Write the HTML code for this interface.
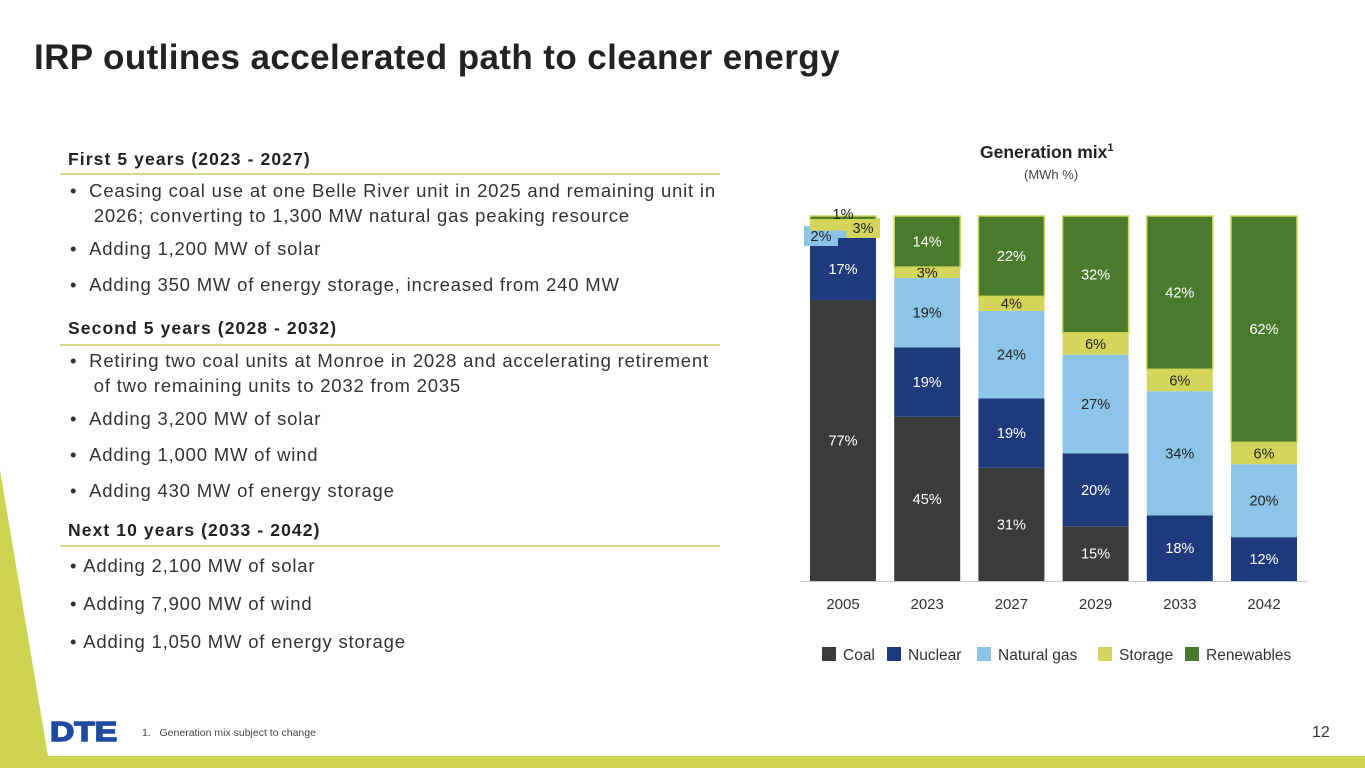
<!DOCTYPE html>
<html><head><meta charset="utf-8"><style>
body{margin:0;width:1365px;height:768px;position:relative;overflow:hidden;background:#fff;font-family:"Liberation Sans",sans-serif;color:#222}
.t{position:absolute;white-space:nowrap}
h1{position:absolute;left:34px;top:38px;margin:0;font-size:35px;font-weight:bold;color:#222;letter-spacing:0.4px}
.hd{position:absolute;left:68px;font-size:17.5px;font-weight:bold;letter-spacing:1.1px;color:#222}
.ln{position:absolute;left:60px;width:660px;height:2px;background:#d6d88a}
.b{position:absolute;font-size:18.5px;letter-spacing:0.8px;color:#333;white-space:nowrap}
</style></head><body>
<svg style="position:absolute;left:0;top:0" width="1365" height="768"><polygon points="0,470 48,756 0,756" fill="#cdd451"/><rect x="0" y="756" width="1365" height="12" fill="#cdd451"/></svg>
<h1>IRP outlines accelerated path to cleaner energy</h1>

<div class="hd" style="top:149px">First 5 years (2023 - 2027)</div>
<div class="ln" style="top:173px"></div>
<div class="b" style="left:70px;top:178px;line-height:25px">•&nbsp;&nbsp;Ceasing coal use at one Belle River unit in 2025 and remaining unit in<br>&nbsp;&nbsp;&nbsp;&nbsp;2026; converting to 1,300 MW natural gas peaking resource</div>
<div class="b" style="left:70px;top:238px">•&nbsp;&nbsp;Adding 1,200 MW of solar</div>
<div class="b" style="left:70px;top:274px">•&nbsp;&nbsp;Adding 350 MW of energy storage, increased from 240 MW</div>

<div class="hd" style="top:318px">Second 5 years (2028 - 2032)</div>
<div class="ln" style="top:344px"></div>
<div class="b" style="left:70px;top:348px;line-height:25px">•&nbsp;&nbsp;Retiring two coal units at Monroe in 2028 and accelerating retirement<br>&nbsp;&nbsp;&nbsp;&nbsp;of two remaining units to 2032 from 2035</div>
<div class="b" style="left:70px;top:408px">•&nbsp;&nbsp;Adding 3,200 MW of solar</div>
<div class="b" style="left:70px;top:444px">•&nbsp;&nbsp;Adding 1,000 MW of wind</div>
<div class="b" style="left:70px;top:480px">•&nbsp;&nbsp;Adding 430 MW of energy storage</div>

<div class="hd" style="top:520px">Next 10 years (2033 - 2042)</div>
<div class="ln" style="top:545px"></div>
<div class="b" style="left:70px;top:555px">•&nbsp;Adding 2,100 MW of solar</div>
<div class="b" style="left:70px;top:593px">•&nbsp;Adding 7,900 MW of wind</div>
<div class="b" style="left:70px;top:631px">•&nbsp;Adding 1,050 MW of energy storage</div>

<div class="t" style="left:50px;top:716px;font-size:28px;font-weight:900;color:#1f4aa0;letter-spacing:0px;transform:scaleX(1.2);transform-origin:left;-webkit-text-stroke:1.5px #1f4aa0">DTE</div>
<div class="t" style="left:142px;top:727px;font-size:10.5px;color:#444">1.&nbsp;&nbsp;&nbsp;Generation mix subject to change</div>
<div class="t" style="left:1312px;top:724px;font-size:16px;color:#333">12</div>

<div class="t" style="left:980px;top:142px;font-size:17.5px;font-weight:bold;color:#222">Generation mix<sup style="font-size:11px">1</sup></div>
<div class="t" style="left:1024px;top:167px;font-size:13px;color:#444">(MWh %)</div>

<svg id="chart" style="position:absolute;left:0;top:0" width="1365" height="768"></svg>
<script>
const years=["2005","2023","2027","2029","2033","2042"];
const seriesNames=["Coal","Nuclear","Natural gas","Storage","Renewables"];
const coal=[77,45,31,15,0,0];
const nuclear=[17,19,19,20,18,12];
const gas=[2,19,24,27,34,20];
const storage=[3,3,4,6,6,6];
const renewables=[1,14,22,32,42,62];
const series=[coal,nuclear,gas,storage,renewables];
const colors=["#3b3b3b","#1f3a7c","#8cc5e8","#d3d65a","#4a7a2b"];
const textCol=["#fff","#fff","#222","#222","#fff"];
const svg=document.getElementById('chart');
const NS="http://www.w3.org/2000/svg";
const y0=581,y1=216,x0=843,dx=84.2,bw=66;
const yS=v=>(y1-y0)*v/100;
const xS=i=>x0+i*dx;
function mk(t,a){const e=document.createElementNS(NS,t);for(const k in a)e.setAttribute(k,a[k]);svg.appendChild(e);return e;}
const ax=mk('line',{x1:800,x2:1307,y1:y0+0.5,y2:y0+0.5,stroke:'#c8c8c8','stroke-width':1});


years.forEach((yr,i)=>{
  let base=0;
  series.forEach((s,k)=>{
    const v=s[i];if(!v){return;}
    const top=y0+yS(base+v),h=-yS(v);
    const r=mk('rect',{x:xS(i)-bw/2,y:top,width:bw,height:h,fill:colors[k]});
    if(k===4){r.setAttribute('stroke','#cdd451');r.setAttribute('stroke-width','1.5');}
    
    
    let lx=xS(i),ly=top+h/2+5;
    if(i===0&&k>=2){
      if(k===2){lx=xS(i)-22;ly=241;const bg=mk('rect',{x:lx-17,y:226,width:34,height:20,fill:colors[k]});}
      if(k===3){lx=xS(i)+20;ly=233;const bg=mk('rect',{x:lx-17,y:218,width:34,height:20,fill:colors[k]});}
      if(k===4){lx=xS(i);ly=219;}
    }
    const t=mk('text',{x:lx,y:ly,'text-anchor':'middle','font-size':14.5,fill:(i===0&&k===4)?'#222':textCol[k],'font-family':'Liberation Sans, sans-serif'});
    t.textContent=v+'%';
    
    
    base+=v;
  });
  const l=mk('text',{x:xS(i),y:609,'text-anchor':'middle','font-size':15,fill:'#333','font-family':'Liberation Sans, sans-serif'});
  l.textContent=yr;
  
  
});
const legX=[822,887,977,1098,1185];
seriesNames.forEach((n,k)=>{
  const r=mk('rect',{x:legX[k],y:647,width:14,height:14,fill:colors[k]});
  
  
  const t=mk('text',{x:legX[k]+21,y:660,'font-size':15.5,fill:'#333','font-family':'Liberation Sans, sans-serif'});
  t.textContent=n;
  
  
});
</script>
</body></html>
